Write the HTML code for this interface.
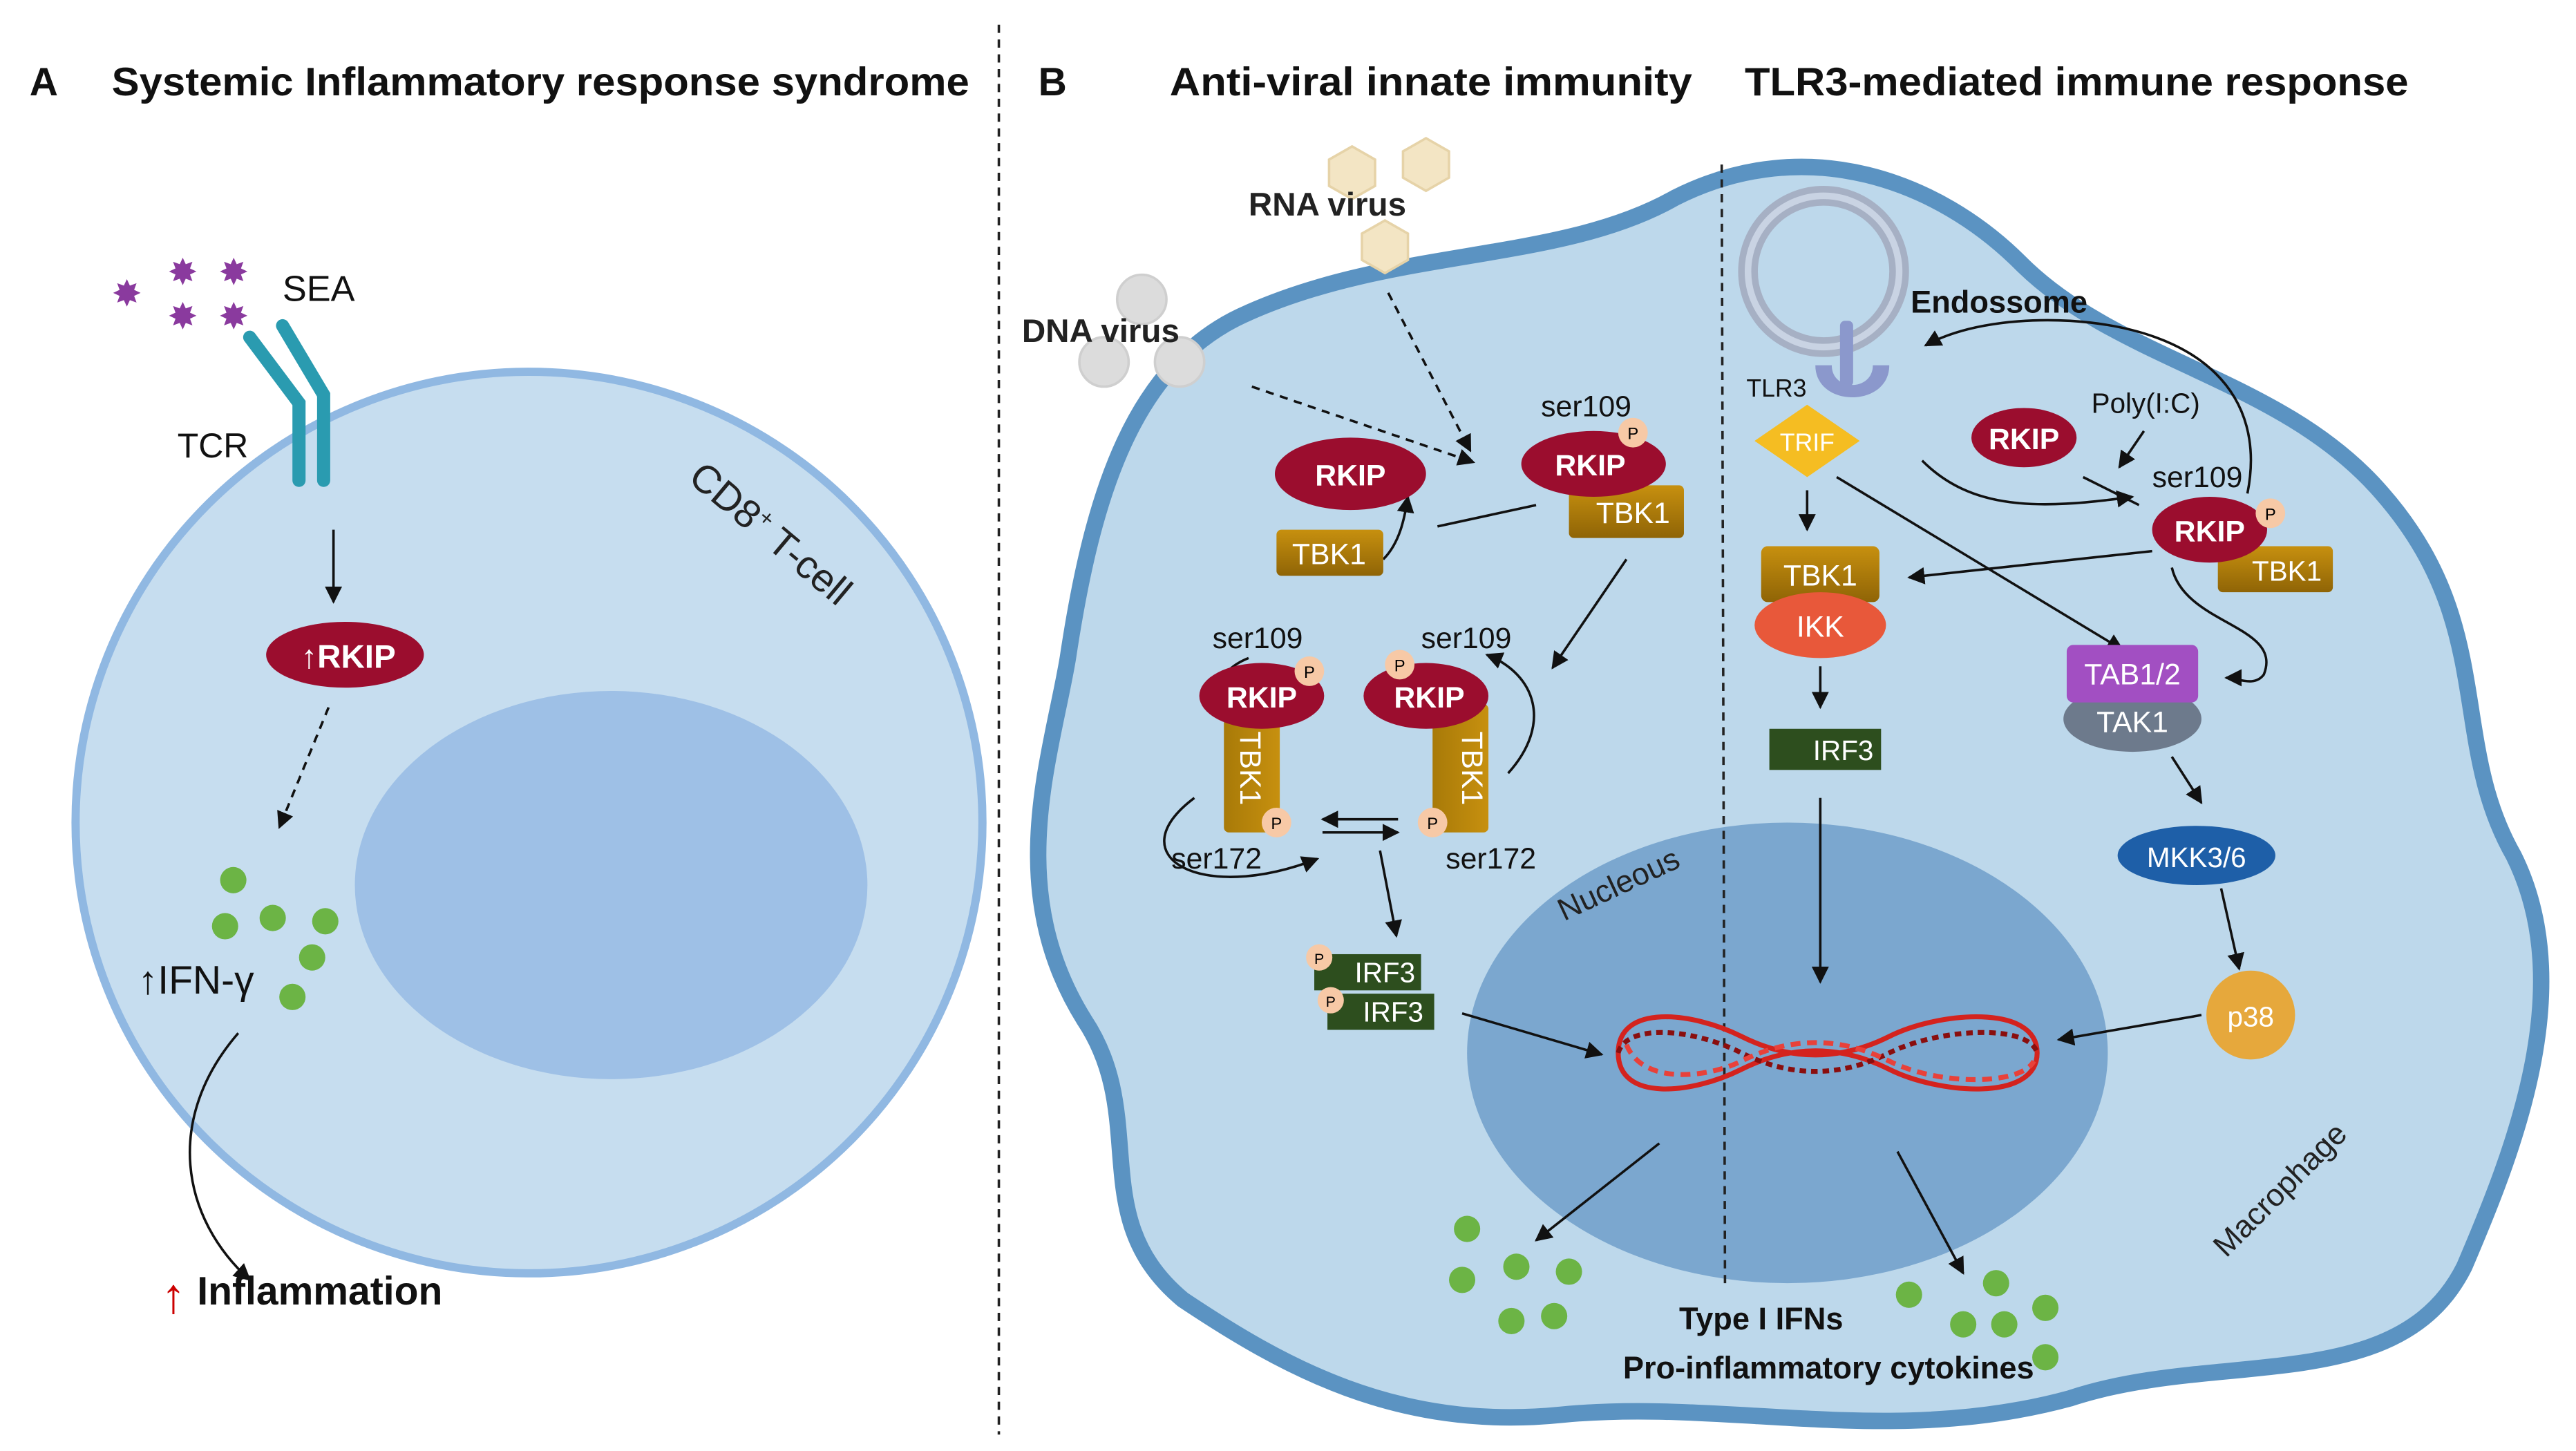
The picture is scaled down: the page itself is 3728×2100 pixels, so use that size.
<!DOCTYPE html>
<html><head><meta charset="utf-8"><style>
html,body{margin:0;padding:0;background:#fff;}
svg{display:block;}
text{font-family:"Liberation Sans",sans-serif;}
</style></head><body>
<svg width="3728" height="2100" viewBox="0 0 1568 882" preserveAspectRatio="none" xmlns="http://www.w3.org/2000/svg">
<defs>
<marker id="a" viewBox="0 0 10 10" refX="9" refY="5" markerWidth="7" markerHeight="7" orient="auto-start-reverse"><path d="M0,0 L10,5 L0,10 z" fill="#111"/></marker>
<linearGradient id="tb" x1="0" y1="0" x2="0" y2="1"><stop offset="0" stop-color="#c7900f"/><stop offset="1" stop-color="#8f6406"/></linearGradient>
<linearGradient id="tbv" x1="0" y1="0" x2="1" y2="0"><stop offset="0" stop-color="#a87a08"/><stop offset="1" stop-color="#c7900f"/></linearGradient>
</defs>
<line x1="608" y1="15" x2="608" y2="872" stroke="#222" stroke-width="1.5" stroke-dasharray="5,4"/>
<g font-weight="bold" font-size="24" fill="#111">
<text x="18" y="58">A</text>
<text x="68" y="58" textLength="522" lengthAdjust="spacingAndGlyphs">Systemic Inflammatory response syndrome</text>
<text x="632" y="58">B</text>
<text x="712" y="58" textLength="318" lengthAdjust="spacingAndGlyphs">Anti-viral innate immunity</text>
<text x="1062" y="58" textLength="404" lengthAdjust="spacingAndGlyphs">TLR3-mediated immune response</text>
</g>
<!-- Panel A -->
<ellipse cx="322" cy="500" rx="276" ry="274" fill="#c6ddef" stroke="#90b8e2" stroke-width="5"/>
<ellipse cx="372" cy="538" rx="156" ry="118" fill="#9ec0e6"/>
<text x="418" y="292" font-size="24" fill="#222" transform="rotate(40 418 292)">CD8<tspan font-size="14" dy="-9">+</tspan><tspan dy="9"> T-cell</tspan></text>
<g fill="#8a3a9e" font-size="22">
<text x="68" y="186">✸</text><text x="102" y="173">✸</text><text x="133" y="173">✸</text><text x="102" y="200">✸</text><text x="133" y="200">✸</text>
</g>
<text x="172" y="183" font-size="22" fill="#111">SEA</text>
<g stroke="#2a9bb0" stroke-width="8" stroke-linecap="round" fill="none">
<path d="M152,205 L182,245 L182,292"/><path d="M172,198 L197,240 L197,292"/>
</g>
<text x="108" y="278" font-size="21" fill="#111">TCR</text>
<line x1="203" y1="322" x2="203" y2="366" stroke="#111" stroke-width="1.5" marker-end="url(#a)"/>
<ellipse cx="210" cy="398" rx="48" ry="20" fill="#9b0d2e"/>
<text x="212" y="406" font-size="20" font-weight="bold" fill="#fff" text-anchor="middle">↑RKIP</text>
<line x1="200" y1="430" x2="170" y2="503" stroke="#111" stroke-width="1.5" stroke-dasharray="5,4" marker-end="url(#a)"/>
<g fill="#6cb445"><circle cx="142" cy="535" r="8"/><circle cx="137" cy="563" r="8"/><circle cx="166" cy="558" r="8"/><circle cx="198" cy="560" r="8"/><circle cx="190" cy="582" r="8"/><circle cx="178" cy="606" r="8"/></g>
<text x="84" y="604" font-size="24" fill="#111">↑IFN-γ</text>
<path d="M145,628 C100,680 110,740 152,778" stroke="#111" stroke-width="1.5" fill="none" marker-end="url(#a)"/>
<text x="98" y="798" font-size="30" fill="#c00" font-weight="bold">↑</text>
<text x="120" y="793" font-size="24" fill="#111" font-weight="bold">Inflammation</text>
<!-- Panel B cell -->
<path d="M760,190 C850,150 950,160 1020,120 C1100,80 1180,110 1230,160 C1290,220 1390,230 1450,300 C1520,380 1490,450 1530,520 C1570,600 1530,700 1500,770 C1460,850 1350,820 1260,850 C1150,880 1050,850 950,860 C850,870 780,830 720,790 C660,740 700,680 660,620 C610,540 640,460 650,400 C665,300 690,220 760,190 Z" fill="#bdd8eb" stroke="#5b93c2" stroke-width="10"/>
<ellipse cx="1088" cy="640" rx="195" ry="140" fill="#7ba7cf"/>
<line x1="1048" y1="100" x2="1050" y2="780" stroke="#222" stroke-width="1.5" stroke-dasharray="5,4"/>
<g fill="#f3e5c4" stroke="#e6d3a8" stroke-width="1.5">
<polygon points="823,89 837,97 837,113 823,121 809,113 809,97"/>
<polygon points="868,84 882,92 882,108 868,116 854,108 854,92"/>
<polygon points="843,134 857,142 857,158 843,166 829,158 829,142"/>
</g>
<text x="760" y="131" font-size="20" font-weight="bold" fill="#222">RNA virus</text>
<g fill="#dcdcdc" stroke="#cfcfcf" stroke-width="1.5">
<circle cx="695" cy="182" r="15"/><circle cx="672" cy="220" r="15"/><circle cx="718" cy="220" r="15"/>
</g>
<text x="622" y="208" font-size="20" font-weight="bold" fill="#222">DNA virus</text>
<g stroke="#111" stroke-width="1.5" fill="none">
<line x1="845" y1="178" x2="895" y2="274" stroke-dasharray="5,4" marker-end="url(#a)"/>
<line x1="762" y1="235" x2="897" y2="281" stroke-dasharray="5,4" marker-end="url(#a)"/>
<path d="M842,340 C852,330 855,315 857,302" marker-end="url(#a)"/>
<line x1="875" y1="320" x2="935" y2="307"/>
<line x1="990" y1="340" x2="945" y2="406" marker-end="url(#a)"/>
<path d="M760,400 C735,410 740,430 748,438" marker-end="url(#a)"/>
<path d="M918,470 C945,440 935,410 905,398" marker-end="url(#a)"/>
<path d="M727,485 C680,520 730,550 802,522" marker-end="url(#a)"/>
<line x1="851" y1="498" x2="805" y2="498" marker-end="url(#a)"/>
<line x1="805" y1="506" x2="851" y2="506" marker-end="url(#a)"/>
<line x1="840" y1="517" x2="850" y2="569" marker-end="url(#a)"/>
<line x1="890" y1="616" x2="975" y2="641" marker-end="url(#a)"/>
<line x1="1010" y1="695" x2="935" y2="754" marker-end="url(#a)"/>
<line x1="1155" y1="700" x2="1195" y2="774" marker-end="url(#a)"/>
</g>
<rect x="777" y="322" width="65" height="28" rx="3" fill="url(#tb)"/>
<text x="809" y="343" font-size="18" fill="#fff" text-anchor="middle">TBK1</text>
<ellipse cx="822" cy="288" rx="46" ry="22" fill="#9b0d2e"/>
<text x="822" y="295" font-size="18" font-weight="bold" fill="#fff" text-anchor="middle">RKIP</text>
<text x="938" y="253" font-size="18" fill="#111">ser109</text>
<rect x="955" y="295" width="70" height="32" rx="3" fill="url(#tb)"/>
<text x="994" y="318" font-size="18" fill="#fff" text-anchor="middle">TBK1</text>
<ellipse cx="970" cy="282" rx="44" ry="20" fill="#9b0d2e"/>
<text x="968" y="289" font-size="18" font-weight="bold" fill="#fff" text-anchor="middle">RKIP</text>
<circle cx="994" cy="263" r="9" fill="#f7c9a6"/><text x="994" y="267" font-size="10" text-anchor="middle">P</text>
<text x="738" y="394" font-size="18" fill="#111">ser109</text>
<rect x="745" y="428" width="34" height="78" rx="3" fill="url(#tbv)"/>
<text x="755" y="467" font-size="18" fill="#fff" text-anchor="middle" transform="rotate(90 755 467)">TBK1</text>
<ellipse cx="768" cy="423" rx="38" ry="20" fill="#9b0d2e"/>
<text x="768" y="430" font-size="18" font-weight="bold" fill="#fff" text-anchor="middle">RKIP</text>
<circle cx="797" cy="408" r="9" fill="#f7c9a6"/><text x="797" y="412" font-size="10" text-anchor="middle">P</text>
<circle cx="777" cy="500" r="9" fill="#f7c9a6"/><text x="777" y="504" font-size="10" text-anchor="middle">P</text>
<text x="865" y="394" font-size="18" fill="#111">ser109</text>
<rect x="872" y="428" width="34" height="78" rx="3" fill="url(#tbv)"/>
<text x="890" y="467" font-size="18" fill="#fff" text-anchor="middle" transform="rotate(90 890 467)">TBK1</text>
<ellipse cx="868" cy="423" rx="38" ry="20" fill="#9b0d2e"/>
<text x="870" y="430" font-size="18" font-weight="bold" fill="#fff" text-anchor="middle">RKIP</text>
<circle cx="852" cy="404" r="9" fill="#f7c9a6"/><text x="852" y="408" font-size="10" text-anchor="middle">P</text>
<circle cx="872" cy="500" r="9" fill="#f7c9a6"/><text x="872" y="504" font-size="10" text-anchor="middle">P</text>
<text x="713" y="528" font-size="18" fill="#111">ser172</text>
<text x="880" y="528" font-size="18" fill="#111">ser172</text>
<rect x="800" y="580" width="65" height="22" fill="#2d4e1e"/>
<text x="843" y="597" font-size="17" fill="#fff" text-anchor="middle">IRF3</text>
<rect x="808" y="604" width="65" height="22" fill="#2d4e1e"/>
<text x="848" y="621" font-size="17" fill="#fff" text-anchor="middle">IRF3</text>
<circle cx="803" cy="582" r="8" fill="#f7c9a6"/><text x="803" y="586" font-size="9" text-anchor="middle">P</text>
<circle cx="810" cy="608" r="8" fill="#f7c9a6"/><text x="810" y="612" font-size="9" text-anchor="middle">P</text>
<text x="952" y="560" font-size="19" fill="#222" transform="rotate(-25 952 560)">Nucleous</text>
<g fill="none" stroke-width="3">
<path d="M985,640 C985,610 1030,615 1060,630 C1090,645 1120,645 1150,630 C1180,615 1240,610 1240,640 C1240,670 1180,665 1150,650 C1120,635 1090,635 1060,650 C1030,665 985,670 985,640 Z" stroke="#d4231e"/>
<path d="M985,640 C990,622 1030,625 1060,640 C1090,655 1120,655 1150,640 C1180,625 1235,622 1240,640" stroke="#8a0e0e" stroke-dasharray="4,3"/>
<path d="M990,635 C1000,660 1040,655 1060,645 C1090,630 1120,630 1150,645 C1180,660 1230,660 1238,645" stroke="#e8413a" stroke-dasharray="6,4"/>
</g>
<g fill="#6cb445">
<circle cx="893" cy="747" r="8"/><circle cx="923" cy="770" r="8"/><circle cx="955" cy="773" r="8"/><circle cx="890" cy="778" r="8"/><circle cx="920" cy="803" r="8"/><circle cx="946" cy="800" r="8"/>
<circle cx="1162" cy="787" r="8"/><circle cx="1215" cy="780" r="8"/><circle cx="1245" cy="795" r="8"/><circle cx="1195" cy="805" r="8"/><circle cx="1220" cy="805" r="8"/><circle cx="1245" cy="825" r="8"/>
</g>
<text x="1072" y="808" font-size="19" font-weight="bold" fill="#111" text-anchor="middle">Type I IFNs</text>
<text x="1113" y="838" font-size="19" font-weight="bold" fill="#111" text-anchor="middle">Pro-inflammatory cytokines</text>
<text x="1355" y="765" font-size="19" fill="#222" transform="rotate(-45 1355 765)">Macrophage</text>
<circle cx="1110" cy="165" r="46" fill="none" stroke="#a6b0c4" stroke-width="12"/>
<circle cx="1110" cy="165" r="46" fill="none" stroke="#c9d3e3" stroke-width="4"/>
<g fill="#8b98cc">
<rect x="1120" y="195" width="8" height="40" rx="3"/>
<path d="M1105,222 C1105,248 1150,248 1150,222 L1140,222 C1140,238 1115,238 1115,222 Z"/>
</g>
<text x="1063" y="241" font-size="15" fill="#111">TLR3</text>
<text x="1163" y="190" font-size="19" font-weight="bold" fill="#111">Endossome</text>
<polygon points="1100,246 1132,268 1100,290 1068,268" fill="#f5bd22"/>
<text x="1100" y="274" font-size="15" fill="#fff" text-anchor="middle">TRIF</text>
<g stroke="#111" stroke-width="1.5" fill="none">
<line x1="1100" y1="298" x2="1100" y2="322" marker-end="url(#a)"/>
<line x1="1108" y1="405" x2="1108" y2="430" marker-end="url(#a)"/>
<line x1="1108" y1="485" x2="1108" y2="597" marker-end="url(#a)"/>
<line x1="1305" y1="262" x2="1290" y2="284" marker-end="url(#a)"/>
<path d="M1170,280 C1200,310 1240,310 1298,302" marker-end="url(#a)"/>
<line x1="1268" y1="290" x2="1302" y2="307"/>
<path d="M1368,300 C1380,240 1340,200 1260,195 C1220,193 1190,200 1172,210" marker-end="url(#a)"/>
<line x1="1310" y1="335" x2="1162" y2="351" marker-end="url(#a)"/>
<line x1="1118" y1="290" x2="1292" y2="395" marker-end="url(#a)"/>
<path d="M1322,345 C1330,380 1390,380 1378,410 C1372,418 1362,412 1355,412" marker-end="url(#a)"/>
<line x1="1322" y1="460" x2="1340" y2="488" marker-end="url(#a)"/>
<line x1="1352" y1="540" x2="1363" y2="589" marker-end="url(#a)"/>
<line x1="1340" y1="617" x2="1253" y2="632" marker-end="url(#a)"/>
</g>
<rect x="1072" y="332" width="72" height="34" rx="4" fill="url(#tb)"/>
<text x="1108" y="356" font-size="18" fill="#fff" text-anchor="middle">TBK1</text>
<ellipse cx="1108" cy="380" rx="40" ry="20" fill="#e8583a"/>
<text x="1108" y="387" font-size="18" fill="#fff" text-anchor="middle">IKK</text>
<rect x="1077" y="443" width="68" height="25" fill="#2d4e1e"/>
<text x="1122" y="462" font-size="17" fill="#fff" text-anchor="middle">IRF3</text>
<ellipse cx="1232" cy="266" rx="32" ry="18" fill="#9b0d2e"/>
<text x="1232" y="273" font-size="18" font-weight="bold" fill="#fff" text-anchor="middle">RKIP</text>
<text x="1273" y="251" font-size="17" fill="#111">Poly(I:C)</text>
<text x="1310" y="296" font-size="18" fill="#111">ser109</text>
<rect x="1350" y="332" width="70" height="28" rx="3" fill="url(#tb)"/>
<text x="1392" y="353" font-size="17" fill="#fff" text-anchor="middle">TBK1</text>
<ellipse cx="1345" cy="322" rx="35" ry="20" fill="#9b0d2e"/>
<text x="1345" y="329" font-size="18" font-weight="bold" fill="#fff" text-anchor="middle">RKIP</text>
<circle cx="1382" cy="312" r="9" fill="#f7c9a6"/><text x="1382" y="316" font-size="10" text-anchor="middle">P</text>
<ellipse cx="1298" cy="437" rx="42" ry="20" fill="#6d7a8c"/>
<rect x="1258" y="392" width="80" height="35" rx="4" fill="#a24fc2"/>
<text x="1298" y="416" font-size="18" fill="#fff" text-anchor="middle">TAB1/2</text>
<text x="1298" y="445" font-size="18" fill="#fff" text-anchor="middle">TAK1</text>
<ellipse cx="1337" cy="520" rx="48" ry="18" fill="#1e5fa8"/>
<text x="1337" y="527" font-size="17" fill="#fff" text-anchor="middle">MKK3/6</text>
<circle cx="1370" cy="617" r="27" fill="#e6a83c"/>
<text x="1370" y="624" font-size="17" fill="#fff" text-anchor="middle">p38</text>
</svg>
</body></html>
